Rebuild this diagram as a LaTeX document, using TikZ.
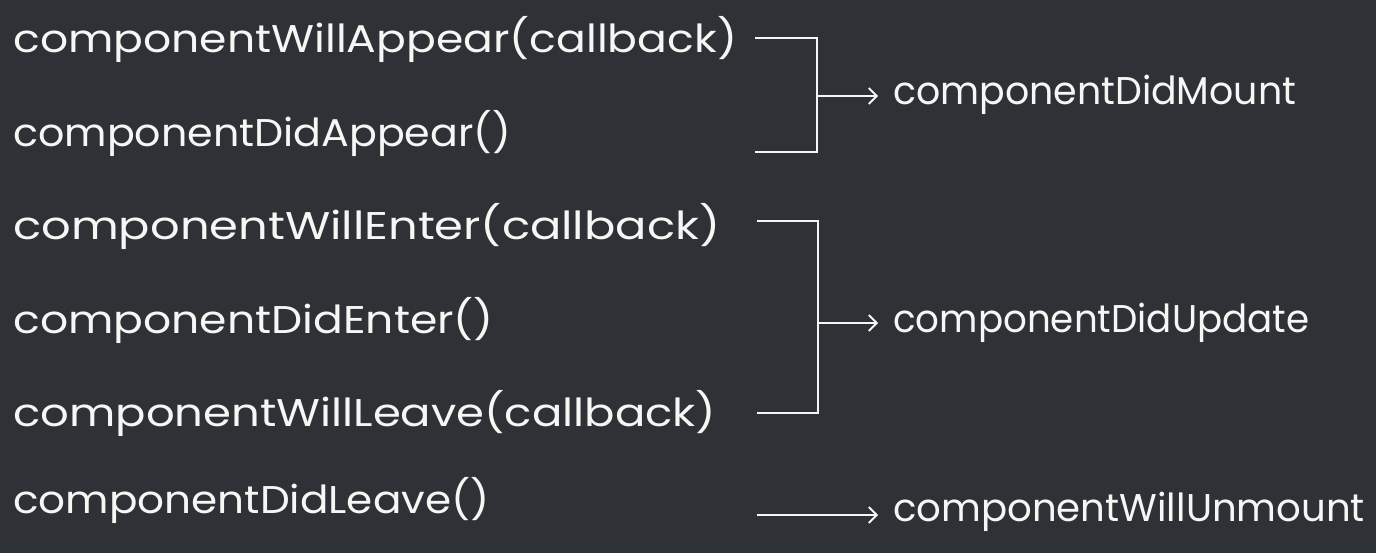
\documentclass[tikz,border=0pt]{standalone}
\usepackage{fontspec}
\usepackage{graphicx}
\setmainfont{Poppins}
\usetikzlibrary{arrows.meta}
\definecolor{board}{RGB}{46,50,54}
\definecolor{chalk}{RGB}{246,246,244}
\newcommand\hstretch[2]{\scalebox{#1}[1]{#2}}
\begin{document}
\begin{tikzpicture}[x=0.02cm,y=-0.02cm,
  hook/.style={anchor=base west,inner sep=0pt,text=chalk,font=\fontsize{22}{26}\selectfont},
  result/.style={anchor=base west,inner sep=0pt,text=chalk,font=\fontsize{22}{26}\selectfont},
  wire/.style={draw=chalk,line width=1.1pt},
  arr/.style={wire,-{Straight Barb[length=4.5pt,width=9pt,line width=1.1pt]}}]
\fill[board] (0,0) rectangle (1376,553);
\useasboundingbox (0,0) rectangle (1376,553);
\node[hook] (h1) at (13,53) {\hstretch{1.14}{componentWillAppear(callback)}};
\node[hook] (h2) at (13,147) {\hstretch{1.065}{componentDidAppear()}};
\node[hook] (h3) at (13,240) {\hstretch{1.2}{componentWillEnter(callback)}};
\node[hook] (h4) at (13,334) {\hstretch{1.14}{componentDidEnter()}};
\node[hook] (h5) at (13,427) {\hstretch{1.163}{componentWillLeave(callback)}};
\node[hook] (h6) at (13,514) {\hstretch{1.09}{componentDidLeave()}};
\node[result] (mount) at (893,105) {\hstretch{0.98}{componentDidMount}};
\node[result] (update) at (893,333) {\hstretch{0.963}{componentDidUpdate}};
\node[result] (unmount) at (893,522) {componentWillUnmount};
% bracket 1
\coordinate (a1) at (755,38);
\coordinate (a2) at (817,38);
\coordinate (a3) at (817,152);
\coordinate (a4) at (755,152);
\coordinate (am) at (817,96);
\coordinate (at) at (878,96);
\draw[wire] (a1) -- (a2) -- (a3) -- (a4);
\draw[arr] (am) -- (at);
% bracket 2
\coordinate (b1) at (757,221);
\coordinate (b2) at (818,221);
\coordinate (b3) at (818,413);
\coordinate (b4) at (757,413);
\coordinate (bm) at (818,323);
\coordinate (bt) at (878,323);
\draw[wire] (b1) -- (b2) -- (b3) -- (b4);
\draw[arr] (bm) -- (bt);
% single arrow
\coordinate (c1) at (757,515);
\coordinate (ct) at (878,515);
\draw[arr] (c1) -- (ct);
\end{tikzpicture}
\end{document}
